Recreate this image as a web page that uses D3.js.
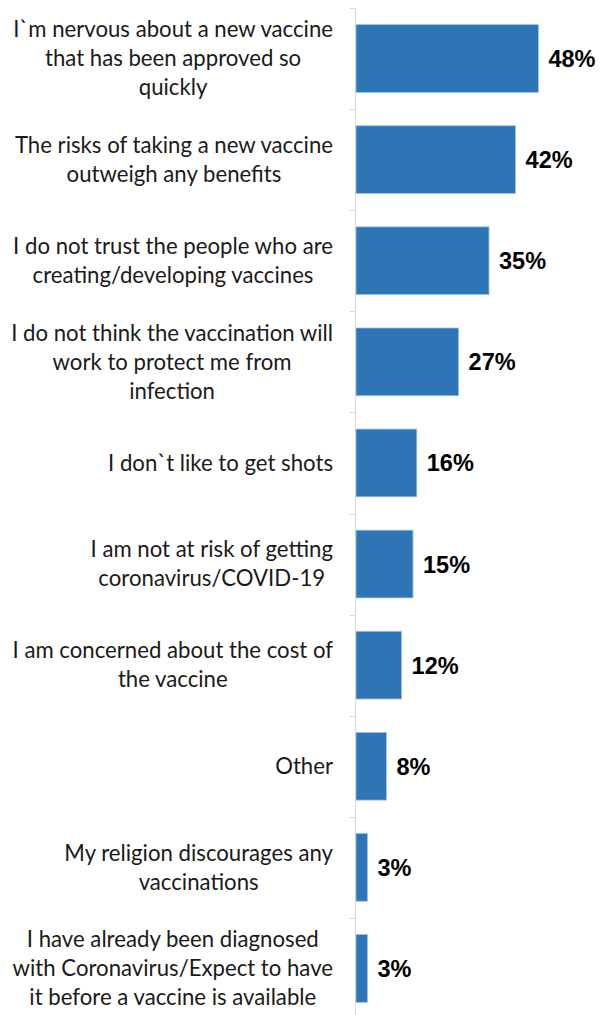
<!DOCTYPE html>
<html>
<head>
<meta charset="utf-8">
<script src="https://cdn.jsdelivr.net/npm/d3@7"></script>
<style>
  body { margin: 0; background: #fff; }
</style>
</head>
<body>
<div id="chart"></div>
<script>
// reasons for not getting the vaccine, top to bottom
var categories = [
  ["I`m nervous about a new vaccine", "that has been approved so", "quickly"],
  ["The risks of taking a new vaccine", "outweigh any benefits"],
  ["I do not trust the people who are", "creating/developing vaccines"],
  ["I do not think the vaccination will", "work to protect me from", "infection"],
  ["I don`t like to get shots"],
  ["I am not at risk of getting", "coronavirus/COVID-19"],
  ["I am concerned about the cost of", "the vaccine"],
  ["Other"],
  ["My religion discourages any", "vaccinations"],
  ["I have already been diagnosed", "with Coronavirus/Expect to have", "it before a vaccine is available"]
];
var values = [48, 42, 35, 27, 16, 15, 12, 8, 3, 3];
var valueLabels = ["48%", "42%", "35%", "27%", "16%", "15%", "12%", "8%", "3%", "3%"];

var width = 600, height = 1015;
var axisX = 355.5, labelRight = 333;

var svg = d3.select("#chart")
.append("svg")
.attr("width", width)
.attr("height", height);

var y = d3.scaleBand()
.domain(d3.range(categories.length))
.range([8, 1019])
.paddingInner(0.33)
.paddingOuter(0.165);

var x = d3.scaleLinear()
.domain([0, 50])
.range([axisX + 0.5, 546]);

// axis line + ticks between categories
var ticks = d3.range(categories.length + 1).map(function (i) {
    return 8 + i * y.step();
});
svg.append("line")
.attr("x1", axisX).attr("x2", axisX)
.attr("y1", 8).attr("y2", height)
.attr("stroke", "#d9d9d9");
svg.selectAll(".tick")
.data(ticks)
.enter()
.append("line")
.attr("x1", axisX - 6).attr("x2", axisX)
.attr("y1", function (d) { return Math.round(d) + 0.5; })
.attr("y2", function (d) { return Math.round(d) + 0.5; })
.attr("stroke", "#d9d9d9");

svg.selectAll(".bar")
.data(values)
.enter()
.append("rect")
.attr("x", x(0))
.attr("y", function (d, i) { return y(i); })
.attr("width", function (d) { return x(d) - x(0); })
.attr("height", y.bandwidth())
.attr("fill", "#2e75b6")
.attr("stroke", "#9dc3e6")
.attr("stroke-width", 0.8);

svg.selectAll(".val")
.data(values)
.enter()
.append("text")
.attr("x", function (d) { return x(d) + 10; })
.attr("y", function (d, i) { return y(i) + y.bandwidth() / 2; })
.attr("dy", "0.36em")
.attr("font-family", "Liberation Sans, Arial, sans-serif")
.attr("font-weight", "bold")
.attr("font-size", 23.5)
.attr("fill", "#000")
.text(function (d, i) { return valueLabels[i]; });

// category labels: block right-aligned, lines centred inside the block
var fontSize = 20, lineH = 29;
var labels = svg.selectAll(".cat")
.data(categories)
.enter()
.append("text")
.attr("font-family", "Lato, sans-serif")
.attr("font-size", fontSize)
.attr("fill", "#1a1a1a")
.attr("text-anchor", "middle");

labels.each(function (lines, i) {
    var t = d3.select(this);
    var cy = y(i) + y.bandwidth() / 2;
    lines.forEach(function (line, j) {
        t.append("tspan")
        .attr("y", cy + (j - (lines.length - 1) / 2) * lineH)
        .attr("dy", "0.35em")
        .text(line);
    });
});

// fit font so the first long line spans the measured width
var probe = labels.filter(function (d, i) { return i === 0; }).select("tspan").node();
var scale = 320 / probe.getComputedTextLength();
labels.attr("font-size", fontSize * scale);

labels.each(function () {
    var t = d3.select(this);
    var maxW = 0;
    t.selectAll("tspan").each(function () {
        maxW = Math.max(maxW, this.getComputedTextLength());
    });
    t.selectAll("tspan").attr("x", labelRight - maxW / 2);
});
</script>
</body>
</html>
